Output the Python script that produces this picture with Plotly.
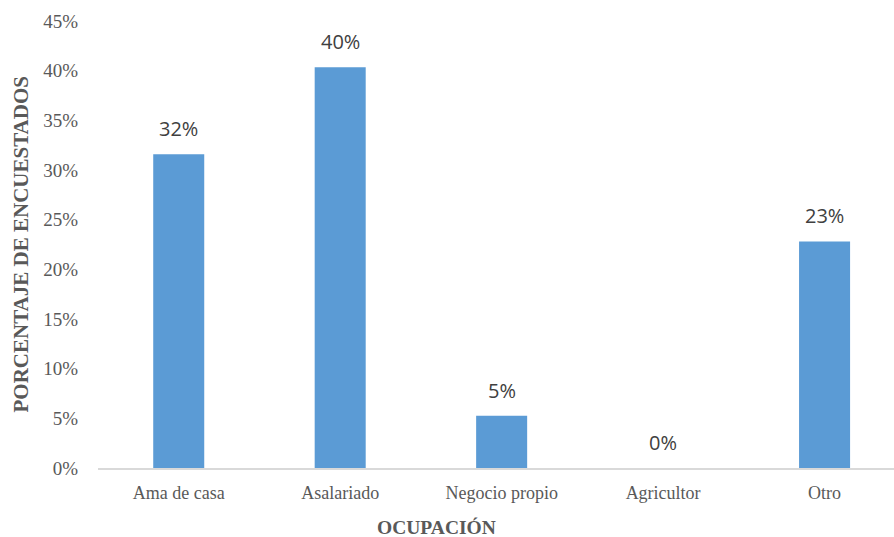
import plotly.graph_objects as go

# Survey respondents by occupation (n = 57)
categorias = ["Ama de casa", "Asalariado", "Negocio propio", "Agricultor", "Otro"]
porcentajes = [18 / 57, 23 / 57, 3 / 57, 0 / 57, 13 / 57]
ticks_y = [0, 0.05, 0.10, 0.15, 0.20, 0.25, 0.30, 0.35, 0.40, 0.45]

BAR_COLOR = "#5B9BD5"
TICK_COLOR = "#595959"
SERIF = "Liberation Serif, Times New Roman, serif"

# Plot area in pixels
PLOT_L, PLOT_R, PLOT_T, PLOT_B = 98, 894, 21, 468
PW, PH = PLOT_R - PLOT_L, PLOT_B - PLOT_T

fig = go.Figure(
    go.Bar(
        x=categorias,
        y=porcentajes,
        width=0.316,
        marker=dict(color=BAR_COLOR, line=dict(width=0)),
        hoverinfo="skip",
    )
)

# Value labels above each bar
for cat, val in zip(categorias, porcentajes):
    fig.add_annotation(
        x=cat, y=val, xref="x", yref="y",
        text=f"{round(val * 100):.0f}%",
        showarrow=False, yanchor="bottom", yshift=10,
        font=dict(family="Open Sans", size=20, color="#404040"),
    )

# Axis titles
fig.add_annotation(
    x=(20 - PLOT_L) / PW, y=0.5, xref="paper", yref="paper",
    xanchor="center", yanchor="middle",
    text="<b>PORCENTAJE DE ENCUESTADOS</b>", textangle=-90, showarrow=False,
    font=dict(family=SERIF, size=21, color=TICK_COLOR),
)
fig.add_annotation(
    x=(436 - PLOT_L) / PW, y=-(527 - PLOT_B) / PH, xref="paper", yref="paper",
    xanchor="center", yanchor="middle",
    text="<b>OCUPACIÓN</b>", showarrow=False,
    font=dict(family=SERIF, size=19.5, color=TICK_COLOR),
)

fig.update_layout(
    width=894, height=537,
    margin=dict(l=PLOT_L, r=894 - PLOT_R, t=PLOT_T, b=537 - PLOT_B),
    plot_bgcolor="white", paper_bgcolor="white",
    showlegend=False,
    xaxis=dict(
        range=[-0.5, 4.43],
        showgrid=False, zeroline=False,
        showline=True, linecolor="#D9D9D9", linewidth=1.5,
        ticks="", ticklabelstandoff=8,
        tickfont=dict(family=SERIF, size=18, color=TICK_COLOR),
    ),
    yaxis=dict(
        range=[0, 0.45],
        tickvals=ticks_y, tickformat=".0%",
        showgrid=False, zeroline=False, showline=False,
        ticks="", ticklabelstandoff=19,
        tickfont=dict(family=SERIF, size=19, color=TICK_COLOR),
    ),
)

fig.write_html("out.html")
